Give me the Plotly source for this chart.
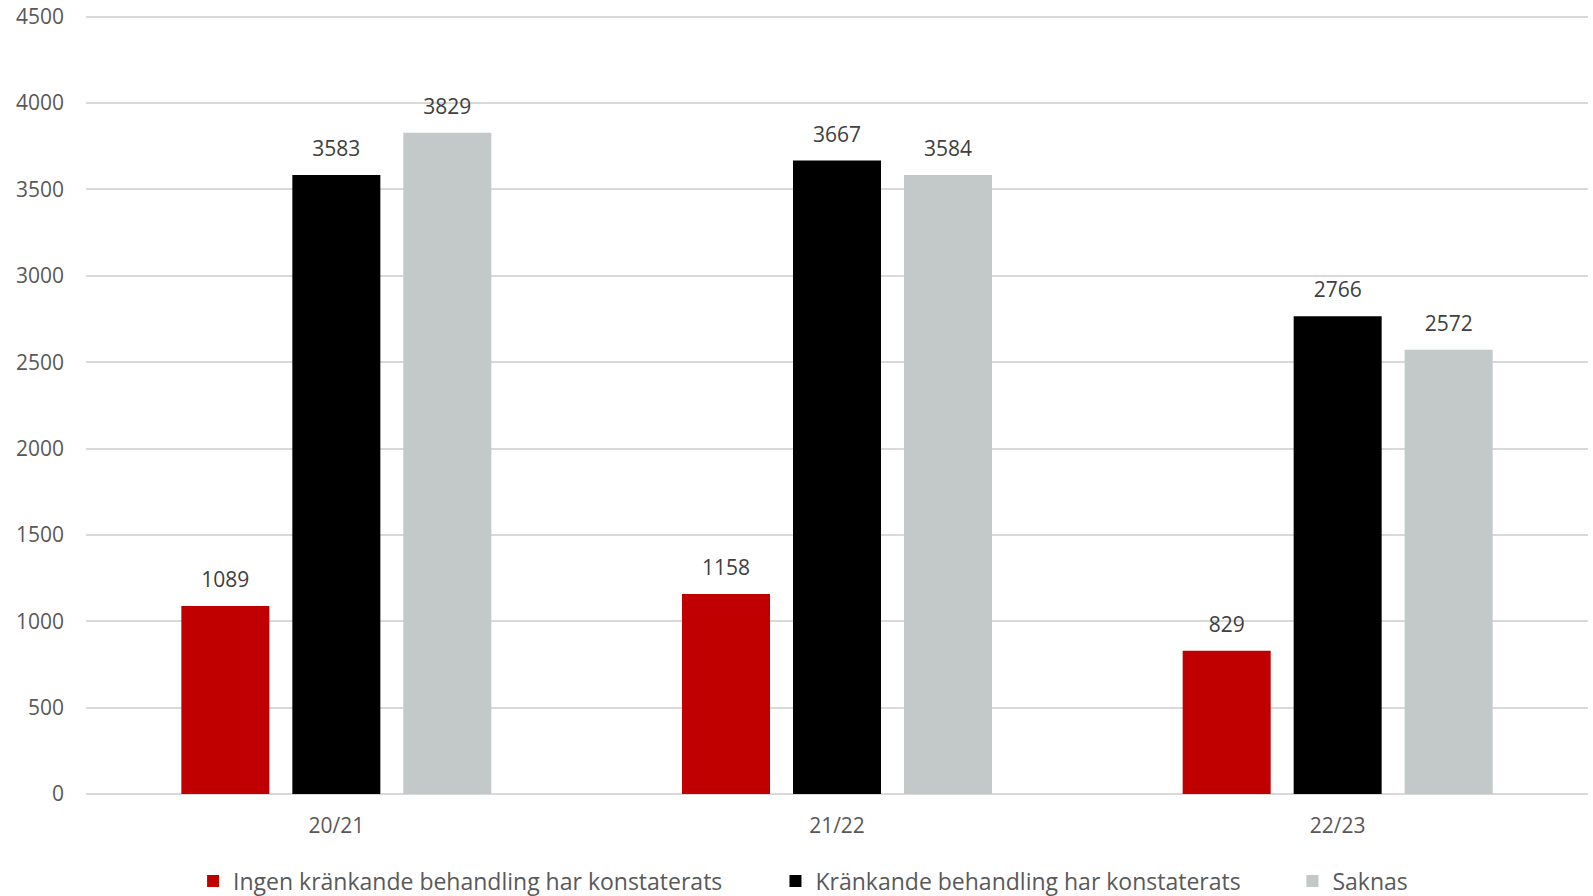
import plotly.graph_objects as go

categories = ["20/21", "21/22", "22/23"]
series_names = [
    "Ingen kränkande behandling har konstaterats",
    "Kränkande behandling har konstaterats",
    "Saknas",
]
ingen = [1089, 1158, 829]
krankande = [3583, 3667, 2766]
saknas = [3829, 3584, 2572]
y_ticks = [0, 500, 1000, 1500, 2000, 2500, 3000, 3500, 4000, 4500]

colors = ["#C00000", "#000000", "#C3C8C8"]
values = [ingen, krankande, saknas]
legend_ids = ["legend", "legend2", "legend3"]
legend_x = [0.1212, 0.4868, 0.8113]

FONT = "Open Sans"
fig = go.Figure()
for name, vals, col, lid in zip(series_names, values, colors, legend_ids):
    fig.add_trace(go.Bar(
        x=categories, y=vals, name=name, marker=dict(color=col, line=dict(width=0)),
        legend=lid,
    ))
for vals in values:
    fig.add_trace(go.Scatter(
        x=categories, y=vals, mode="markers+text", text=[str(v) for v in vals],
        textposition="top center", textfont=dict(family=FONT, size=21, color="#404040"),
        marker=dict(size=20, opacity=0), showlegend=False, hoverinfo="skip",
        cliponaxis=False,
    ))

layout_legends = {}
for lid, lx in zip(legend_ids, legend_x):
    layout_legends[lid] = dict(
        x=lx, y=0.0167, xref="container", yref="container", xanchor="left", yanchor="middle",
        orientation="h", font=dict(family=FONT, size=23, color="#595959"),
        bgcolor="rgba(0,0,0,0)", itemwidth=30,
    )

fig.update_layout(
    width=1593, height=896,
    margin=dict(l=86, r=5, t=15, b=102, autoexpand=False),
    plot_bgcolor="white", paper_bgcolor="white",
    barmode="group", bargap=0.335, bargroupgap=0.207,
    scattermode="group", scattergap=0.335,
    font=dict(family=FONT, color="#595959"),
    xaxis=dict(
        showgrid=False, showline=False,
        tickfont=dict(family=FONT, size=21, color="#595959"), ticks="",
        ticklabelstandoff=17,
    ),
    yaxis=dict(
        range=[0, 4510], tickvals=y_ticks, showgrid=True, gridcolor="#D9D9D9", gridwidth=1.5,
        zeroline=True, zerolinecolor="#D9D9D9", zerolinewidth=2, showline=False, ticks="",
        tickfont=dict(family=FONT, size=21, color="#595959"), ticklabelstandoff=21,
    ),
    **layout_legends,
)

fig.write_html("out.html", post_script="document.body.style.margin='0';",
               config={"displayModeBar": False})
